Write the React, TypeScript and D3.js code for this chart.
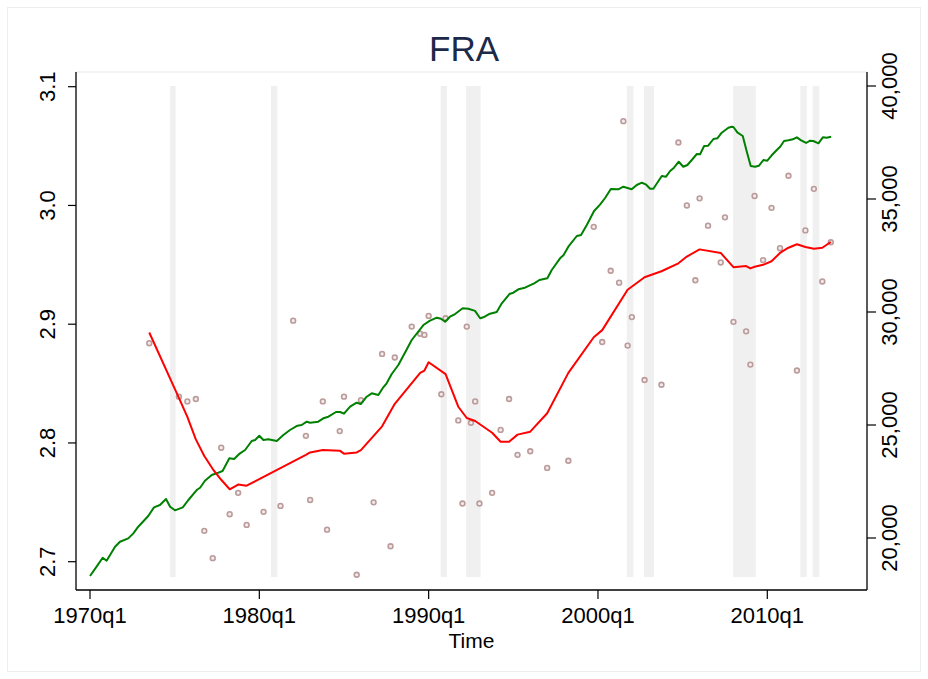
import React from "react";
import * as d3 from "d3";

const title = "FRA";
const xTickYears = [1970, 1980, 1990, 2000, 2010];
const xTickLabels = ["1970q1", "1980q1", "1990q1", "2000q1", "2010q1"];
const leftTicks = [2.7, 2.8, 2.9, 3.0, 3.1];
const rightTicks = [20000, 25000, 30000, 35000, 40000];

// recession bands: [start, end] decimal years
const bands: [number, number][] = [
  [1974.73, 1975.06], [1980.69, 1981.06], [1990.71, 1991.08], [1992.21, 1993.07],
  [2001.7, 2002.09], [2002.72, 2003.31], [2007.98, 2009.32], [2011.95, 2012.33], [2012.68, 2013.07],
];

// green series (right axis): [time, value]
const greenSeries: [number, number][] = [
  [1970.0, 18317], [1970.39, 18730], [1970.75, 19127], [1970.98, 18994], [1971.48, 19614],
  [1971.77, 19835], [1972.26, 19985], [1972.56, 20206], [1972.85, 20500], [1973.44, 20973],
  [1973.78, 21357], [1974.13, 21459], [1974.49, 21725], [1974.73, 21384], [1975.02, 21225],
  [1975.48, 21357], [1975.81, 21681], [1976.3, 22123], [1976.5, 22225], [1976.79, 22535],
  [1977.19, 22787], [1977.48, 22862], [1977.83, 22964], [1978.23, 23526], [1978.51, 23495],
  [1978.86, 23747], [1979.16, 23893], [1979.55, 24291], [1979.75, 24335], [1980.0, 24526],
  [1980.24, 24335], [1980.53, 24365], [1981.03, 24291], [1981.42, 24557], [1981.81, 24779],
  [1982.25, 24969], [1982.5, 25000], [1982.8, 25146], [1983.0, 25102], [1983.48, 25146],
  [1983.78, 25296], [1984.08, 25367], [1984.53, 25575], [1984.77, 25575], [1985.0, 25500],
  [1985.36, 25810], [1985.75, 25986], [1985.99, 25928], [1986.34, 26251], [1986.64, 26401],
  [1987.03, 26327], [1987.32, 26667], [1987.52, 26844], [1987.82, 27256], [1988.21, 27654],
  [1988.6, 28200], [1989.0, 28761], [1989.69, 29424], [1990.08, 29615], [1990.48, 29748],
  [1990.73, 29703], [1990.97, 29570], [1991.26, 29792], [1991.56, 29911], [1992.01, 30163],
  [1992.34, 30146], [1992.74, 30050], [1993.04, 29721], [1993.23, 29765], [1993.57, 29911],
  [1994.02, 30000], [1994.32, 30385], [1994.77, 30796], [1995.0, 30854], [1995.3, 31004],
  [1995.69, 31075], [1996.23, 31270], [1996.54, 31416], [1997.01, 31491], [1997.27, 31858],
  [1997.76, 32376], [1997.96, 32509], [1998.25, 32889], [1998.75, 33363], [1999.0, 33407],
  [1999.34, 33849], [1999.77, 34469], [2000.12, 34750], [2000.42, 35045], [2000.76, 35442],
  [2001.2, 35429], [2001.5, 35544], [2001.99, 35429], [2002.29, 35619], [2002.59, 35721],
  [2002.82, 35650], [2003.08, 35456], [2003.27, 35456], [2003.77, 36018], [2004.02, 35987],
  [2004.26, 36239], [2004.49, 36385], [2004.77, 36650], [2005.04, 36429], [2005.28, 36504],
  [2005.54, 36726], [2005.84, 36991], [2006.03, 36978], [2006.27, 37345], [2006.51, 37358],
  [2006.82, 37655], [2007.05, 37686], [2007.31, 37934], [2007.7, 38155], [2007.9, 38199],
  [2008.0, 38186], [2008.23, 37951], [2008.55, 37788], [2008.79, 37093], [2009.02, 36460],
  [2009.28, 36429], [2009.51, 36473], [2009.77, 36726], [2010.0, 36695], [2010.26, 36933],
  [2010.56, 37168], [2010.76, 37314], [2010.99, 37566], [2011.25, 37597], [2011.51, 37641],
  [2011.74, 37730], [2012.0, 37597], [2012.29, 37478], [2012.53, 37580], [2012.72, 37566],
  [2013.02, 37464], [2013.28, 37730], [2013.51, 37712], [2013.77, 37757],
];

// red smoothed series (left axis)
const redSeries: [number, number][] = [
  [1973.5, 2.893], [1975.25, 2.838], [1975.75, 2.822], [1976.25, 2.803], [1976.75, 2.789],
  [1977.25, 2.778], [1977.75, 2.769], [1978.25, 2.761], [1978.75, 2.765], [1979.25, 2.764],
  [1982.75, 2.790], [1983.0, 2.792], [1983.75, 2.794], [1984.75, 2.7935], [1985.0, 2.791],
  [1985.75, 2.792], [1986.0, 2.794], [1987.25, 2.814], [1988.0, 2.833], [1989.5, 2.859],
  [1989.75, 2.861], [1990.0, 2.868], [1991.0, 2.858], [1991.75, 2.8305], [1992.25, 2.821],
  [1992.75, 2.8185], [1993.75, 2.8086], [1994.25, 2.801], [1994.75, 2.801], [1995.25, 2.807],
  [1996.0, 2.8095], [1997.0, 2.825], [1998.25, 2.859], [1999.75, 2.889], [2000.25, 2.895],
  [2001.75, 2.929], [2002.75, 2.9395], [2003.75, 2.9446], [2004.75, 2.9513], [2005.25, 2.957],
  [2006.0, 2.963], [2007.25, 2.960], [2008.0, 2.948], [2008.75, 2.949], [2009.0, 2.947],
  [2009.25, 2.9484], [2009.75, 2.950], [2010.25, 2.953], [2010.75, 2.960], [2011.25, 2.9644],
  [2011.75, 2.9673], [2012.25, 2.965], [2012.75, 2.9636], [2013.25, 2.9644], [2013.75, 2.9692],
];

// scatter points (left axis)
const dots: [number, number][] = [
  [1973.5, 2.884], [1975.25, 2.839], [1975.75, 2.835], [1976.25, 2.837], [1976.75, 2.726],
  [1977.25, 2.703], [1977.75, 2.796], [1978.25, 2.740], [1978.75, 2.758], [1979.25, 2.731],
  [1980.25, 2.742], [1981.25, 2.747], [1982.0, 2.903], [1982.75, 2.806], [1983.0, 2.752],
  [1983.75, 2.835], [1984.0, 2.727], [1984.75, 2.810], [1985.0, 2.839], [1985.75, 2.689],
  [1986.0, 2.836], [1986.75, 2.750], [1987.25, 2.875], [1987.75, 2.713], [1988.0, 2.872],
  [1989.0, 2.898], [1989.5, 2.892], [1989.75, 2.891], [1990.0, 2.907], [1990.75, 2.841],
  [1991.0, 2.905], [1991.75, 2.819], [1992.0, 2.749], [1992.25, 2.898], [1992.5, 2.817],
  [1992.75, 2.835], [1993.0, 2.749], [1993.75, 2.758], [1994.25, 2.811], [1994.75, 2.837],
  [1995.25, 2.790], [1996.0, 2.793], [1997.0, 2.779], [1998.25, 2.785], [1999.75, 2.982],
  [2000.25, 2.885], [2000.75, 2.945], [2001.25, 2.935], [2001.5, 3.071], [2001.75, 2.882],
  [2002.0, 2.906], [2002.75, 2.853], [2003.75, 2.849], [2004.75, 3.053], [2005.25, 3.000],
  [2005.75, 2.937], [2006.0, 3.006], [2006.5, 2.983], [2007.25, 2.952], [2007.5, 2.990],
  [2008.0, 2.902], [2008.75, 2.894], [2009.0, 2.866], [2009.25, 3.008], [2009.75, 2.954],
  [2010.25, 2.998], [2010.75, 2.964], [2011.25, 3.025], [2011.75, 2.861], [2012.25, 2.979],
  [2012.75, 3.014], [2013.25, 2.936], [2013.75, 2.969],
];

const bandRange: [number, number] = [18270, 40000];

export default function App() {
  const W = 928, H = 679;
  const plotL = 76, plotR = 867, plotT = 72, plotB = 590;
  const x = d3.scaleLinear().domain([1970, 2010]).range([90, 767.3]);
  const yL = d3.scaleLinear().domain([2.7, 3.1]).range([561.7, 86.7]);
  const yR = d3.scaleLinear().domain([20000, 40000]).range([538, 86]);
  const font = "'Liberation Sans', Arial, Helvetica, sans-serif";

  const greenLine = d3.line<[number, number]>().x(d => x(d[0])).y(d => yR(d[1]))(greenSeries) || "";
  const redLine = d3.line<[number, number]>().x(d => x(d[0])).y(d => yL(d[1]))(redSeries) || "";
  const fmt = d3.format(",");

  return (
    <svg width={W} height={H} style={{ position: "absolute", left: 0, top: 0, background: "#fff" }} fontFamily={font}>
      <rect x={0} y={0} width={W} height={H} fill="#ffffff" />
      <rect x={7.5} y={7.5} width={913} height={664} fill="none" stroke="#eaeeee" strokeWidth={1} />
      <text x={464} y={61} textAnchor="middle" fontSize={35} fill="#1c2a4a">{title}</text>
      {/* plot region top border */}
      <line x1={plotL} x2={plotR} y1={plotT} y2={plotT} stroke="#e2eaea" strokeWidth={1} />
      {bands.map((b, i) => (
        <rect key={i} x={x(b[0])} width={x(b[1]) - x(b[0])} y={yR(bandRange[1])}
          height={yR(bandRange[0]) - yR(bandRange[1])} fill="#f0f0f0" />
      ))}
      {dots.map((d, i) => (
        <circle key={i} cx={x(d[0])} cy={yL(d[1])} r={2.4} fill="#f3ecec" stroke="#bb9b9b" strokeWidth={1.6} />
      ))}
      <path d={greenLine} fill="none" stroke="#008000" strokeWidth={2} strokeLinejoin="round" />
      <path d={redLine} fill="none" stroke="#ff0000" strokeWidth={2} strokeLinejoin="round" />
      {/* axes */}
      <line x1={plotL} x2={plotL} y1={plotT} y2={plotB} stroke="#000" strokeWidth={1.3} />
      <line x1={plotR} x2={plotR} y1={plotT} y2={plotB} stroke="#000" strokeWidth={1.3} />
      <line x1={plotL} x2={plotR} y1={plotB} y2={plotB} stroke="#000" strokeWidth={1.3} />
      {leftTicks.map((t, i) => (
        <g key={i}>
          <line x1={plotL - 8} x2={plotL} y1={yL(t)} y2={yL(t)} stroke="#000" strokeWidth={1.2} />
          <text transform={`translate(55,${yL(t)}) rotate(-90)`} textAnchor="middle" fontSize={22} fill="#000">{t.toFixed(1)}</text>
        </g>
      ))}
      {rightTicks.map((t, i) => (
        <g key={i}>
          <line x1={plotR} x2={plotR + 9} y1={yR(t)} y2={yR(t)} stroke="#000" strokeWidth={1.2} />
          <text transform={`translate(897,${yR(t)}) rotate(-90)`} textAnchor="middle" fontSize={22} fill="#000">{fmt(t)}</text>
        </g>
      ))}
      {xTickYears.map((t, i) => (
        <g key={i}>
          <line x1={x(t)} x2={x(t)} y1={plotB} y2={plotB + 9} stroke="#000" strokeWidth={1.2} />
          <text x={x(t)} y={623} textAnchor="middle" fontSize={22} fill="#000">{xTickLabels[i]}</text>
        </g>
      ))}
      <text x={(plotL + plotR) / 2} y={648} textAnchor="middle" fontSize={21} fill="#000">Time</text>
    </svg>
  );
}
